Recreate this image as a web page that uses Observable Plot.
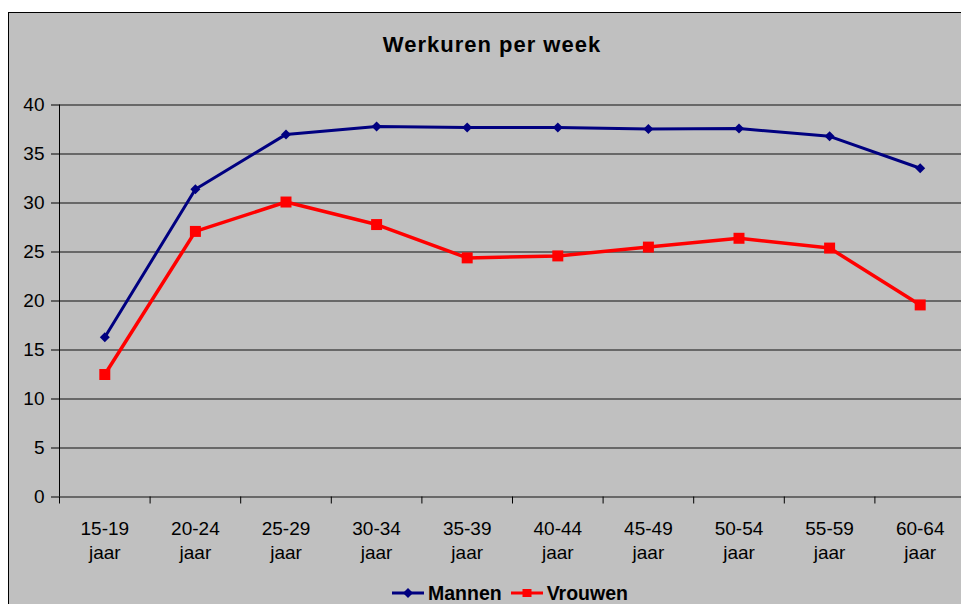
<!DOCTYPE html>
<html><head><meta charset="utf-8">
<script src="https://cdn.jsdelivr.net/npm/d3@7"></script>
<script src="https://cdn.jsdelivr.net/npm/@observablehq/plot@0.6"></script>
<style>
html,body{margin:0;padding:0;background:#fff;}
#wrap{position:relative;width:961px;height:604px;overflow:hidden;background:#fff;font-family:"Liberation Sans",Arial,sans-serif;color:#000;}
#area{position:absolute;left:8px;top:12px;width:1000px;height:700px;background:#c0c0c0;border-left:1px solid #000;border-top:1px solid #000;}
#chart{position:absolute;left:0;top:0;width:970px;height:604px;}
#chart svg{max-width:none !important;}
#title{position:absolute;left:0;width:984px;top:34px;text-align:center;font-weight:bold;font-size:22px;line-height:22px;letter-spacing:1px;}
#legend{position:absolute;left:392px;top:582px;display:flex;align-items:center;font-weight:bold;font-size:19.5px;line-height:22px;}
#legend svg{display:block;}
</style></head>
<body>
<div id="wrap">
  <div id="area"></div>
  <div id="chart"></div>
  <div id="title">Werkuren per week</div>
  <div id="legend"></div>
</div>
<script>
const categories = ["15-19 jaar","20-24 jaar","25-29 jaar","30-34 jaar","35-39 jaar","40-44 jaar","45-49 jaar","50-54 jaar","55-59 jaar","60-64 jaar"];
const categoryLabels = ["15-19\njaar","20-24\njaar","25-29\njaar","30-34\njaar","35-39\njaar","40-44\njaar","45-49\njaar","50-54\njaar","55-59\njaar","60-64\njaar"];
const mannen = [16.3, 31.4, 37.0, 37.8, 37.7, 37.7, 37.55, 37.6, 36.8, 33.55];
const vrouwen = [12.5, 27.1, 30.1, 27.8, 24.4, 24.6, 25.5, 26.4, 25.4, 19.6];
const yTicks = [0, 5, 10, 15, 20, 25, 30, 35, 40];
const seriesNames = ["Mannen", "Vrouwen"];
const seriesColors = ["#000080", "#ff0000"];

const rows = categories.map((c, i) => ({i, label: categoryLabels[i], mannen: mannen[i], vrouwen: vrouwen[i]}));
const xDomain = [-0.5, categories.length - 0.5];
const boundaries = d3.range(categories.length + 1).map(k => k - 0.5);

const diamond = {draw(ctx, size) { const r = Math.sqrt(size / 2); ctx.moveTo(0, -r); ctx.lineTo(r, 0); ctx.lineTo(0, r); ctx.lineTo(-r, 0); ctx.closePath(); }};

const chart = Plot.plot({
  width: 970, height: 604,
  marginLeft: 59, marginRight: 5, marginTop: 104.5, marginBottom: 107.5,
  style: {background: "transparent", color: "#000", fontFamily: "'Liberation Sans', Arial, sans-serif", overflow: "visible", maxWidth: "none"},
  x: {type: "linear", domain: xDomain, axis: null, label: null},
  y: {domain: [0, 40], axis: null, label: null},
  marks: [
    Plot.ruleY(yTicks, {stroke: "#111", strokeWidth: 1}),
    Plot.ruleX([xDomain[0]], {stroke: "#000", strokeWidth: 1}),
    Plot.axisY(yTicks, {tickSize: 8, tickPadding: 7, fontSize: 19, stroke: "#000", fill: "#000", label: null}),
    Plot.axisX(boundaries, {tickSize: 7, tickFormat: () => "", stroke: "#000", label: null}),
    Plot.text(rows, {x: "i", y: () => 0, text: "label", lineAnchor: "top", dy: 21, fontSize: 19, lineHeight: 1.25, fill: "#000"}),
    Plot.line(rows, {x: "i", y: "mannen", stroke: seriesColors[0], strokeWidth: 3}),
    Plot.dot(rows, {x: "i", y: "mannen", symbol: diamond, r: 4, fill: seriesColors[0], stroke: "none"}),
    Plot.line(rows, {x: "i", y: "vrouwen", stroke: seriesColors[1], strokeWidth: 3.5}),
    Plot.dot(rows, {x: "i", y: "vrouwen", symbol: "square", r: 6.2, fill: seriesColors[1], stroke: "none"})
  ]
});
document.getElementById("chart").appendChild(chart);

// legend
const legend = d3.select("#legend");
seriesNames.forEach((name, k) => {
  const item = legend.append("div").style("display", "flex").style("align-items", "center").style("margin-right", k === 0 ? "9px" : "0");
  const s = item.append("svg").attr("width", 32).attr("height", 14).style("margin-right", "4px");
  s.append("line").attr("x1", 0).attr("x2", 32).attr("y1", 7).attr("y2", 7).attr("stroke", seriesColors[k]).attr("stroke-width", 3);
  if (k === 0) s.append("path").attr("d", "M16,2L21,7L16,12L11,7Z").attr("fill", seriesColors[k]);
  else s.append("rect").attr("x", 11.5).attr("y", 3).attr("width", 9).attr("height", 8).attr("fill", seriesColors[k]);
  item.append("span").text(name);
});
</script>
</body></html>
